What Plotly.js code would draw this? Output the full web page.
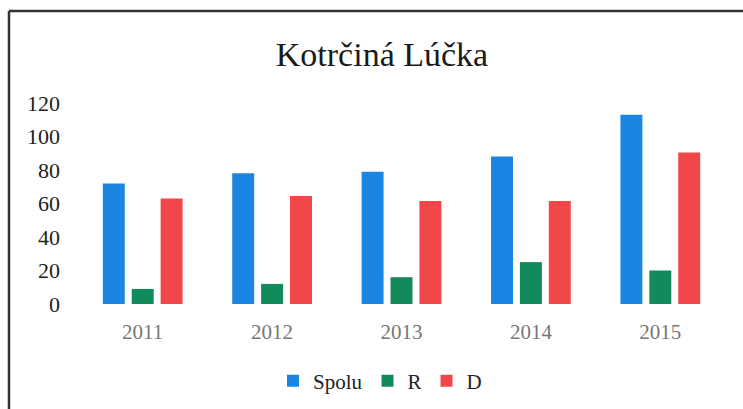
<!DOCTYPE html>
<html>
<head>
<meta charset="utf-8">
<script src="https://cdn.plot.ly/plotly-3.0.1.min.js"></script>
<style>html,body{margin:0;padding:0;background:#fff;}#chart{width:743px;height:409px;}</style>
</head>
<body>
<div id="chart"></div>
<script>
const years = ['2011', '2012', '2013', '2014', '2015'];
const spolu = [72, 78, 79, 88, 113];
const r = [9, 12, 16, 25, 20];
const d = [63, 64.5, 61.5, 61.5, 90.5];
const yTicks = [0, 20, 40, 60, 80, 100, 120];

const serif = 'Liberation Serif, Times New Roman, serif';

const traces = [
  {type: 'bar', name: 'Spolu', x: years, y: spolu, marker: {color: '#1a86e2'}},
  {type: 'bar', name: 'R', x: years, y: r, marker: {color: '#138a5c'}},
  {type: 'bar', name: 'D', x: years, y: d, marker: {color: '#f1474a'}}
];

const layout = {
  width: 743, height: 409,
  margin: {l: 78, r: 18, t: 103, b: 105},
  paper_bgcolor: '#ffffff', plot_bgcolor: '#ffffff',
  barmode: 'group', bargap: 0.33, bargroupgap: 0.24,
  showlegend: true,
  title: {text: 'Kotrčiná Lúčka', font: {family: serif, size: 34, color: '#1a1a1a'},
          xref: 'container', yref: 'container', x: 382/743, y: 1 - 54/409,
          xanchor: 'center', yanchor: 'middle'},
  xaxis: {type: 'category', showgrid: false, zeroline: false, showline: false,
          ticks: '', ticklabelstandoff: 13,
          tickfont: {family: serif, size: 21, color: '#777777'}},
  yaxis: {range: [0, 120], tickvals: yTicks, ticktext: yTicks.map(String),
          showgrid: false, zeroline: false, showline: false, ticks: '',
          ticklabelstandoff: 17,
          tickfont: {family: serif, size: 22, color: '#222222'}},
  legend: {orientation: 'h', xref: 'container', yref: 'container',
           x: 380/743, y: 1 - 381/409, xanchor: 'center', yanchor: 'middle',
           font: {family: serif, size: 21, color: '#222222'},
           itemwidth: 30, tracegroupgap: 0},
  shapes: [
    {type: 'line', xref: 'paper', yref: 'paper', x0: (9-78)/647, x1: (9-78)/647, y0: (304-11)/201, y1: -0.6,
     line: {color: '#333333', width: 2.5}},
    {type: 'line', xref: 'paper', yref: 'paper', x0: (9-78)/647, x1: 1.1, y0: (304-11)/201, y1: (304-11)/201,
     line: {color: '#333333', width: 2.5}}
  ]
};

Plotly.newPlot('chart', traces, layout, {staticPlot: true, displayModeBar: false});
</script>
</body>
</html>
